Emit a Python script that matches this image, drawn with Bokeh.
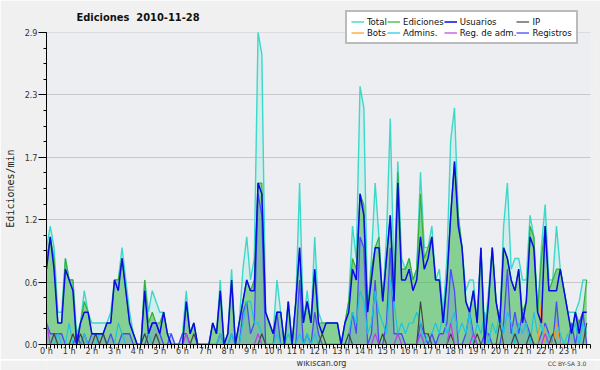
from bokeh.plotting import figure
from bokeh.layouts import column
from bokeh.models import ColumnDataSource, FixedTicker, Legend, LegendItem, Label, BoxAnnotation
from bokeh.embed import file_html
from bokeh.resources import INLINE

# ---- data: edits per minute, one value per 10-minute slot (144 slots, 0h..23h50) ----
total = [0.9,1.1,0.9,0.3,0.3,0.8, 0.6,0.6,0.1,0.2,0.5,0.3, 0.2,0.2,0.2,0.2,0.2,0.3,
         0.6,0.6,0.9,0.6,0.3,0.1, 0.0,0.0,0.6,0.3,0.5,0.4, 0.3,0.3,0.1,0.1,0.0,0.0,
         0.1,0.5,0.1,0.2,0.0,0.0, 0.0,0.0,0.2,0.1,0.6,0.0, 0.1,0.7,0.0,0.2,0.7,1.0,
         0.6,0.8,2.9,2.7,0.3,0.2, 0.1,0.6,0.3,0.0,0.4,0.0, 0.4,1.5,0.2,0.5,0.2,1.0,
         0.3,0.2,0.2,0.2,0.2,0.2, 0.0,0.2,0.4,1.1,0.8,2.4, 2.2,0.3,0.8,1.5,1.0,0.4,
         1.0,2.1,0.6,1.7,0.8,0.7, 0.8,0.6,0.7,1.6,0.9,0.9, 1.1,0.6,0.7,0.3,0.8,1.9,
         2.2,1.2,0.9,0.5,0.6,0.6, 0.2,0.9,0.1,0.5,0.9,0.4, 0.2,1.1,1.5,0.7,0.8,0.8,
         0.6,0.6,1.2,1.0,0.3,0.9, 1.3,0.6,0.6,1.1,0.7,0.5, 0.3,0.3,0.3,0.4,0.6,0.6]
ediciones = [0.8,1.0,0.8,0.2,0.2,0.8, 0.6,0.6,0.0,0.2,0.4,0.3, 0.1,0.1,0.1,0.1,0.2,0.2,
             0.6,0.6,0.8,0.5,0.2,0.1, 0.0,0.0,0.6,0.2,0.3,0.2, 0.2,0.3,0.1,0.0,0.0,0.0,
             0.0,0.4,0.1,0.2,0.0,0.0, 0.0,0.0,0.2,0.1,0.5,0.0, 0.1,0.6,0.0,0.2,0.4,0.6,
             0.5,0.6,1.5,1.5,0.3,0.2, 0.1,0.3,0.3,0.0,0.4,0.0, 0.4,0.9,0.2,0.4,0.2,0.7,
             0.2,0.2,0.2,0.2,0.2,0.2, 0.0,0.2,0.4,0.8,0.7,1.4, 1.3,0.3,0.7,0.9,1.0,0.4,
             0.8,1.2,0.5,1.6,0.7,0.7, 0.8,0.6,0.7,1.4,0.8,0.9, 1.0,0.6,0.6,0.2,0.6,1.2,
             1.7,1.2,0.9,0.4,0.3,0.5, 0.2,0.9,0.0,0.4,0.9,0.4, 0.2,0.9,0.8,0.6,0.5,0.7,
             0.3,0.4,1.1,1.0,0.3,0.8, 1.1,0.5,0.6,0.7,0.7,0.5, 0.3,0.1,0.3,0.2,0.3,0.6]
usuarios = [0.7,1.0,0.7,0.2,0.2,0.7, 0.6,0.5,0.0,0.2,0.3,0.3, 0.1,0.1,0.1,0.1,0.2,0.2,
            0.6,0.5,0.8,0.5,0.2,0.1, 0.0,0.0,0.5,0.1,0.2,0.2, 0.1,0.3,0.1,0.0,0.0,0.0,
            0.0,0.4,0.1,0.2,0.0,0.0, 0.0,0.0,0.2,0.1,0.5,0.0, 0.1,0.6,0.0,0.2,0.4,0.6,
            0.5,0.5,1.5,1.4,0.3,0.2, 0.1,0.3,0.3,0.0,0.4,0.0, 0.4,0.9,0.2,0.4,0.2,0.7,
            0.2,0.1,0.2,0.2,0.2,0.2, 0.0,0.2,0.3,0.7,0.6,1.4, 1.2,0.3,0.6,0.9,0.9,0.4,
            0.8,1.2,0.4,1.5,0.6,0.6, 0.7,0.5,0.6,1.0,0.7,0.8, 1.0,0.6,0.6,0.2,0.6,1.2,
            1.7,1.1,0.9,0.4,0.3,0.5, 0.2,0.9,0.0,0.4,0.9,0.4, 0.2,0.9,0.8,0.6,0.5,0.7,
            0.2,0.4,1.0,0.9,0.3,0.2, 1.1,0.5,0.5,0.5,0.7,0.5, 0.3,0.1,0.3,0.1,0.3,0.3]
ip = [0.0,0.0,0.1,0.0,0.0,0.0, 0.0,0.1,0.0,0.1,0.0,0.0, 0.0,0.1,0.0,0.1,0.0,0.0,
      0.0,0.0,0.0,0.0,0.0,0.0, 0.0,0.0,0.1,0.0,0.0,0.1, 0.0,0.0,0.0,0.0,0.0,0.0,
      0.0,0.0,0.0,0.1,0.0,0.0, 0.0,0.0,0.0,0.0,0.0,0.0, 0.0,0.0,0.0,0.0,0.0,0.0,
      0.0,0.0,0.0,0.1,0.0,0.0, 0.0,0.0,0.0,0.0,0.0,0.0, 0.0,0.0,0.0,0.0,0.0,0.0,
      0.0,0.1,0.0,0.0,0.0,0.0, 0.0,0.0,0.1,0.0,0.0,0.0, 0.0,0.0,0.0,0.0,0.0,0.1,
      0.0,0.0,0.0,0.0,0.0,0.0, 0.0,0.0,0.0,0.4,0.1,0.1, 0.0,0.0,0.0,0.0,0.0,0.1,
      0.0,0.0,0.0,0.0,0.0,0.0, 0.1,0.0,0.0,0.0,0.0,0.0, 0.2,0.0,0.0,0.0,0.1,0.0,
      0.0,0.0,0.1,0.0,0.0,0.0, 0.0,0.0,0.1,0.0,0.0,0.0, 0.0,0.0,0.0,0.0,0.0,0.2]
bots = [0.0]*6*21 + [0.0,0.0,0.0,0.0,0.0,0.4, 0.0,0.0,0.0,0.2,0.0,0.0] + [0.0]*6
admins = [0.0,0.0,0.0,0.1,0.0,0.0, 0.2,0.0,0.0,0.0,0.1,0.0, 0.0,0.0,0.1,0.1,0.0,0.0,
          0.0,0.2,0.1,0.0,0.0,0.0, 0.0,0.0,0.1,0.1,0.0,0.0, 0.0,0.0,0.0,0.0,0.0,0.0,
          0.0,0.0,0.0,0.0,0.0,0.0, 0.0,0.0,0.0,0.0,0.1,0.0, 0.0,0.1,0.0,0.0,0.2,0.4,
          0.4,0.2,0.2,0.1,0.0,0.0, 0.0,0.1,0.0,0.0,0.1,0.0, 0.0,0.1,0.0,0.1,0.0,0.1,
          0.0,0.0,0.0,0.0,0.0,0.0, 0.0,0.0,0.1,0.3,0.2,0.5, 0.4,0.1,0.2,0.5,0.3,0.2,
          0.1,0.6,0.4,0.1,0.2,0.1, 0.2,0.2,0.3,0.2,0.0,0.1, 0.1,0.2,0.1,0.3,0.1,0.2,
          0.3,0.1,0.2,0.1,0.3,0.0, 0.2,0.1,0.3,0.0,0.2,0.1, 0.3,0.1,0.3,0.2,0.0,0.2,
          0.1,0.2,0.0,0.3,0.1,0.2, 0.0,0.1,0.0,0.2,0.1,0.0, 0.1,0.1,0.2,0.0,0.2,0.1]
reg_adm = [0.2,0.0,0.0,0.0,0.0,0.0, 0.0,0.0,0.0,0.0,0.0,0.0, 0.0,0.0,0.0,0.0,0.0,0.0,
           0.0,0.0,0.0,0.0,0.0,0.0, 0.0,0.0,0.0,0.0,0.0,0.0, 0.0,0.0,0.0,0.0,0.0,0.0,
           0.0,0.1,0.0,0.0,0.0,0.0, 0.0,0.0,0.0,0.0,0.0,0.0, 0.0,0.0,0.0,0.0,0.0,0.0,
           0.0,0.0,0.1,0.0,0.0,0.0, 0.0,0.0,0.0,0.0,0.0,0.0, 0.0,0.0,0.0,0.0,0.0,0.0,
           0.0,0.0,0.0,0.0,0.0,0.0, 0.0,0.0,0.0,0.0,0.0,0.0, 0.0,0.0,0.0,0.1,0.0,0.0,
           0.0,0.0,0.0,0.1,0.0,0.0, 0.0,0.0,0.0,0.1,0.0,0.0, 0.0,0.0,0.0,0.0,0.0,0.2,
           0.0,0.0,0.0,0.0,0.0,0.1, 0.0,0.0,0.0,0.0,0.0,0.0, 0.0,0.0,0.0,0.0,0.0,0.0,
           0.0,0.0,0.0,0.0,0.0,0.0, 0.1,0.0,0.0,0.0,0.0,0.0, 0.0,0.0,0.0,0.0,0.0,0.0]
registros = [0.2,0.1,0.1,0.1,0.1,0.0, 0.0,0.0,0.1,0.0,0.1,0.0, 0.1,0.1,0.1,0.1,0.0,0.1,
             0.0,0.0,0.1,0.1,0.1,0.0, 0.0,0.0,0.0,0.1,0.2,0.2, 0.1,0.0,0.0,0.1,0.0,0.0,
             0.1,0.1,0.0,0.0,0.0,0.0, 0.0,0.0,0.0,0.0,0.1,0.0, 0.0,0.1,0.0,0.0,0.3,0.4,
             0.1,0.2,1.4,1.2,0.0,0.0, 0.0,0.3,0.0,0.0,0.0,0.0, 0.0,0.6,0.0,0.1,0.0,0.3,
             0.1,0.0,0.0,0.0,0.0,0.0, 0.0,0.0,0.0,0.3,0.1,1.0, 0.9,0.0,0.1,0.6,0.0,0.0,
             0.2,0.9,0.1,0.1,0.1,0.0, 0.0,0.0,0.0,0.2,0.1,0.0, 0.1,0.0,0.1,0.1,0.2,0.7,
             0.5,0.0,0.0,0.1,0.3,0.1, 0.0,0.0,0.1,0.1,0.0,0.0, 0.0,0.2,0.7,0.1,0.3,0.1,
             0.3,0.2,0.1,0.0,0.0,0.1, 0.2,0.1,0.0,0.4,0.0,0.0, 0.0,0.2,0.0,0.2,0.3,0.0]

hour_ticks = list(range(24))
hour_labels = ["%d h" % h for h in hour_ticks]
y_ticks = [0.0, 0.58, 1.16, 1.74, 2.32, 2.9]
y_labels = ["0.0", "0.6", "1.2", "1.7", "2.3", "2.9"]
Y_MAX = 2.9
X_MAX = 24

SMALL = "DejaVu Sans Condensed"
BG = "#f0f0f0"

slots = [i / 6 for i in range(len(total))]
src = ColumnDataSource(dict(x=slots, total=total, ed=ediciones, us=usuarios, ip=ip,
                            bots=bots, adm=admins, radm=reg_adm, reg=registros))

# frame: x 46..596 px, y 8..344 px; data area (0..24 h, 0..2.9) at x 46..590, y 32..344
p = figure(width=600, height=359, x_range=(0, 24.265), y_range=(0, 3.123),
           output_backend="svg", toolbar_location=None,
           min_border_left=46, min_border_right=4, min_border_top=8, min_border_bottom=15)
p.background_fill_color = "#eceef1"
p.border_fill_color = BG
p.outline_line_color = None
p.xgrid.visible = False
p.ygrid.grid_line_color = "#c8c8c8"
p.add_layout(BoxAnnotation(bottom=Y_MAX, fill_color=BG, fill_alpha=1, line_alpha=0, level="underlay"))
p.add_layout(BoxAnnotation(left=X_MAX, fill_color=BG, fill_alpha=1, line_alpha=0, level="underlay"))

# fills
p.varea(x="x", y1=0, y2="total", source=src, fill_color="#40e0d0", fill_alpha=0.14)
p.varea(x="x", y1=0, y2="ed", source=src, fill_color="#3cb43c", fill_alpha=0.5)
p.varea(x="x", y1=0, y2="reg", source=src, fill_color="#4040ff", fill_alpha=0.15)

# lines
r_total = p.line("x", "total", source=src, color="#3cd8c8", line_width=1.4)
r_ed = p.line("x", "ed", source=src, color="#36b036", line_width=1.2)
r_reg = p.line("x", "reg", source=src, color="#4a4af8", line_width=1.3)
r_adm = p.line("x", "adm", source=src, color="#1cc4e4", line_width=1.2)
r_ip = p.line("x", "ip", source=src, color="#444444", line_width=1.2)
r_bots = p.line("x", "bots", source=src, color="#ff9a1a", line_width=1.2)
r_radm = p.line("x", "radm", source=src, color="#c43ae6", line_width=1.2)
r_us = p.line("x", "us", source=src, color="#0a0ae6", line_width=1.5)

# axes
p.xaxis.ticker = FixedTicker(ticks=hour_ticks, minor_ticks=slots + [24])
p.xaxis.major_label_overrides = dict(zip(hour_ticks, hour_labels))
p.xaxis.bounds = (0, X_MAX)
p.yaxis.ticker = FixedTicker(ticks=y_ticks, minor_ticks=[k * 0.145 for k in range(21)])
p.yaxis.major_label_overrides = dict(zip(y_ticks, y_labels))
p.yaxis.bounds = (0, Y_MAX)
for ax in (p.xaxis, p.yaxis):
    ax.axis_line_color = "black"
    ax.major_tick_line_color = "black"
    ax.minor_tick_line_color = "black"
    ax.major_label_text_font = SMALL
    ax.major_label_text_color = "#333333"
    ax.major_label_text_font_size = "9px"
p.xaxis.major_tick_out = 4
p.xaxis.major_tick_in = 0
p.xaxis.minor_tick_out = 4
p.xaxis.minor_tick_in = 0
p.xaxis.major_label_standoff = -3
p.yaxis.major_tick_out = 8
p.yaxis.major_tick_in = 0
p.yaxis.minor_tick_out = 3
p.yaxis.minor_tick_in = 0
p.yaxis.major_label_standoff = 1
# trailing no-break spaces centre the visible words on the 0..2.9 span
p.yaxis.axis_label = "Ediciones/min\u00a0\u00a0\u00a0\u00a0"
p.yaxis.axis_label_text_font = "DejaVu Sans Mono"
p.yaxis.axis_label_text_font_style = "normal"
p.yaxis.axis_label_text_font_size = "10px"
p.yaxis.axis_label_text_color = "#222222"
p.yaxis.axis_label_standoff = 6

# title (screen offsets from the frame's bottom-left corner)
p.add_layout(Label(x=30, y=327, x_units="screen", y_units="screen",
                   text="Ediciones \u00a02010-11-28", text_font=SMALL,
                   text_font_style="bold", text_font_size="11px",
                   text_baseline="middle", text_color="#111111"))

legend = Legend(items=[
    LegendItem(label="Total", renderers=[r_total]),
    LegendItem(label="Ediciones", renderers=[r_ed]),
    LegendItem(label="Usuarios", renderers=[r_us]),
    LegendItem(label="IP", renderers=[r_ip]),
    LegendItem(label="Bots", renderers=[r_bots]),
    LegendItem(label="Admins.", renderers=[r_adm]),
    LegendItem(label="Reg. de adm.", renderers=[r_radm]),
    LegendItem(label="Registros", renderers=[r_reg]),
], location=(299, 300), orientation="horizontal", ncols=4)
legend.label_text_font = SMALL
legend.label_text_font_size = "9.5px"
legend.label_text_color = "#111111"
legend.label_height = 9
legend.glyph_height = 9
legend.glyph_width = 13
legend.label_standoff = 3
legend.spacing = 0
legend.padding = 4
legend.margin = 0
legend.border_line_color = "#777777"
legend.border_line_width = 2
legend.background_fill_color = "white"
legend.background_fill_alpha = 1.0
p.add_layout(legend, "center")

# footer strip with the site name and licence
foot = figure(width=600, height=11, x_range=(0, 600), y_range=(0, 11),
              output_backend="svg", toolbar_location=None,
              x_axis_location=None, y_axis_location=None, min_border=0)
foot.background_fill_color = BG
foot.border_fill_color = BG
foot.outline_line_color = None
foot.grid.visible = False
foot.add_layout(Label(x=300, y=7.8, text="wikiscan.org", text_font="DejaVu Sans",
                      text_font_size="8px", text_align="center", text_baseline="middle",
                      text_color="#333333"))
foot.add_layout(Label(x=589, y=7.8, text="CC BY-SA 3.0", text_font="DejaVu Sans",
                      text_font_size="6px", text_align="right", text_baseline="middle",
                      text_color="#444444"))

page = column(p, foot, spacing=0)
open("out.html", "w").write(file_html(page, INLINE))
